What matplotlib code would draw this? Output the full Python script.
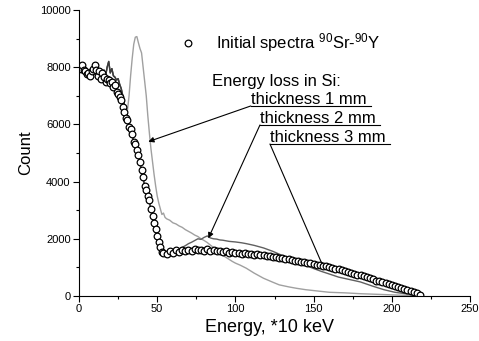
import matplotlib
matplotlib.use("Agg")
import matplotlib.pyplot as plt

plt.rcParams['font.family'] = ['Liberation Sans', 'DejaVu Sans']
plt.rcParams['mathtext.fontset'] = 'custom'
plt.rcParams['mathtext.rm'] = 'Liberation Sans'
plt.rcParams['mathtext.default'] = 'regular'

# initial spectrum (circles)
circ_x = list(range(0, 55)) + list(range(56, 219, 2))
circ_y = [8000, 7950, 8080, 7900, 7850, 7750, 7790, 7700, 7850, 7950,
          8080, 7900, 7700, 7850, 7600, 7800, 7650, 7500, 7600, 7550,
          7450, 7500, 7300, 7380, 7150, 7050, 6970, 6850, 6600, 6450,
          6220, 6150, 5920, 5850, 5650, 5400, 5300, 5100, 4930, 4700,
          4400, 4150, 3850, 3700, 3500, 3350, 3050, 2800, 2550, 2350,
          2100, 1900, 1700, 1550, 1500,
          1480, 1560, 1520, 1600, 1550, 1620, 1580, 1620, 1560, 1640,
          1600, 1620, 1580, 1630, 1570, 1600, 1560, 1590, 1540, 1570,
          1520, 1550, 1510, 1520, 1480, 1500, 1460, 1480, 1440, 1460,
          1420, 1430, 1400, 1390, 1380, 1360, 1340, 1330, 1300, 1290,
          1260, 1240, 1220, 1200, 1180, 1160, 1140, 1120, 1100, 1080,
          1060, 1040, 1010, 990, 960, 930, 900, 870, 840, 810,
          780, 750, 720, 690, 650, 620, 580, 540, 510, 480,
          450, 410, 380, 350, 310, 280, 240, 200, 170, 130,
          90, 40]

# common low-energy part of the energy loss spectra
low_x = [0, 2, 4, 6, 8, 10, 12, 14, 16, 17, 18, 19, 20, 21, 22, 23, 24, 25, 26, 27, 28, 29, 30]
low_y = [7950, 7900, 7800, 7750, 7800, 7850, 7750, 7800, 7900, 7700, 8000, 8200,
         7800, 7950, 7700, 7650, 7550, 7600, 7400, 7250, 7000, 6700, 6450]

# thickness 1 mm
t1_x = [31, 32, 33, 34, 35, 36, 37, 38, 39, 40,
        41, 42, 43, 44, 45, 46, 47, 48, 49, 50,
        51, 52, 53, 54, 55, 56, 58, 60, 62, 64,
        66, 68, 70, 72, 74, 76, 78, 80, 82, 84,
        86, 88, 90, 92, 94, 96, 98, 100, 103, 107,
        112, 118, 124, 128, 134, 139, 145, 150, 155, 160,
        170, 180, 190, 200, 210, 218]
t1_y = [6500, 7000, 7700, 8300, 8800, 9050, 9070, 8850, 8650, 8500,
        8000, 7500, 7000, 6300, 5700, 5150, 4700, 4250, 3850, 3500,
        3250, 3050, 2850, 2900, 2750, 2700, 2650, 2560, 2520, 2450,
        2400, 2320, 2260, 2200, 2130, 2080, 2000, 1940, 1870, 1780,
        1700, 1600, 1500, 1420, 1350, 1280, 1210, 1150, 1080, 970,
        800, 620, 480, 390, 320, 270, 220, 190, 160, 130,
        110, 80, 60, 40, 20, 0]

# thickness 2 mm
t2_x = [31, 32, 33, 34, 35, 36, 37, 38, 39, 40,
        41, 42, 43, 44, 45, 46, 47, 48, 49, 50,
        51, 52, 53, 54, 56, 58, 60, 62, 64, 66,
        68, 70, 72, 74, 76, 78, 80, 82, 84, 86,
        88, 90, 92, 94, 96, 98, 100, 104, 107, 112,
        118, 124, 129, 134, 139, 145, 150, 155, 160, 166,
        171, 176, 180, 188, 195, 202, 210, 218]
t2_y = [6250, 6000, 5800, 5600, 5400, 5250, 5050, 4850, 4650, 4350,
        4100, 3850, 3650, 3450, 3300, 3000, 2750, 2500, 2300, 2050,
        1850, 1650, 1520, 1480, 1500, 1520, 1560, 1600, 1640, 1700,
        1760, 1830, 1880, 1940, 2000, 1980, 2050, 2100, 2030, 2000,
        1990, 1960, 1950, 1930, 1910, 1900, 1890, 1860, 1830, 1770,
        1680, 1560, 1440, 1320, 1200, 1070, 960, 860, 770, 660,
        600, 540, 490, 340, 220, 130, 70, 0]

# thickness 3 mm
t3_x = [31, 32, 33, 34, 35, 36, 37, 38, 39, 40,
        41, 42, 43, 44, 45, 46, 47, 48, 49, 50,
        51, 52, 53, 54, 56, 60, 65, 70, 75, 80,
        85, 90, 95, 100, 110, 120, 130, 140, 150, 160,
        170, 180, 190, 200, 210, 218]
t3_y = [6250, 6000, 5800, 5600, 5400, 5250, 5050, 4850, 4650, 4350,
        4100, 3850, 3650, 3450, 3300, 3000, 2750, 2500, 2300, 2050,
        1850, 1650, 1520, 1480, 1500, 1540, 1580, 1600, 1620, 1600,
        1590, 1580, 1550, 1520, 1460, 1390, 1300, 1190, 1080, 960,
        830, 680, 510, 340, 170, 0]

fig = plt.figure(figsize=(4.79, 3.41), dpi=100)
ax = fig.add_axes([79 / 479, 45 / 341, 391 / 479, 286 / 341])

ax.plot(low_x + t1_x, low_y + t1_y, color='#a0a0a0', lw=1.0)
ax.plot(low_x + t2_x, low_y + t2_y, color='#606060', lw=1.0)
ax.plot(low_x + t3_x, low_y + t3_y, color='#3a3a3a', lw=1.0)
ax.plot(circ_x, circ_y, 'o', ms=4.8, mfc='white', mec='black', mew=0.9,
        label=r'Initial spectra $^{90}$Sr-$^{90}$Y')

ax.set_xlim(0, 250)
ax.set_ylim(0, 10000)
ax.set_xticks([0, 50, 100, 150, 200, 250])
ax.set_xticks([25, 75, 125, 175, 225], minor=True)
ax.set_yticks([0, 2000, 4000, 6000, 8000, 10000])
ax.set_yticks([1000, 3000, 5000, 7000, 9000], minor=True)
ax.tick_params(which='major', direction='out', length=4, width=0.8, labelsize=8, pad=2)
ax.tick_params(which='minor', direction='out', length=2.5, width=0.8)
ax.spines['top'].set_visible(False)
ax.spines['right'].set_visible(False)

ax.set_xlabel('Energy, *10 keV', fontsize=13)
ax.xaxis.set_label_coords(0.486, -0.08)
ax.set_ylabel('Count', fontsize=12, labelpad=5)

ax.legend(loc='center left', bbox_to_anchor=(0.2575, 0.8846), frameon=False,
          borderpad=0, borderaxespad=0, handlelength=1.0, handletextpad=1.2,
          fontsize=12, numpoints=1)

ax.text(85, 7484, 'Energy loss in Si:', fontsize=12, va='center')
labels = [('thickness 1 mm', 109.8, 6644, 186.5, (44.3, 5396), True),
          ('thickness 2 mm', 115.7, 5980, 192.5, (82.7, 2017), True),
          ('thickness 3 mm', 122.1, 5315, 198.8, (155.2, 1143), False)]
for txt, x0, yu, x1, tip, head in labels:
    ax.text(x0, yu + 70, txt, fontsize=12, va='baseline')
    ax.plot([x0, x1], [yu, yu], color='black', lw=0.8)
    ax.annotate('', xy=tip, xytext=(x0, yu),
                arrowprops=dict(arrowstyle='-|>' if head else '-', color='black',
                                lw=0.8, mutation_scale=8, shrinkA=0, shrinkB=0))

fig.savefig('out.png', dpi=100)
